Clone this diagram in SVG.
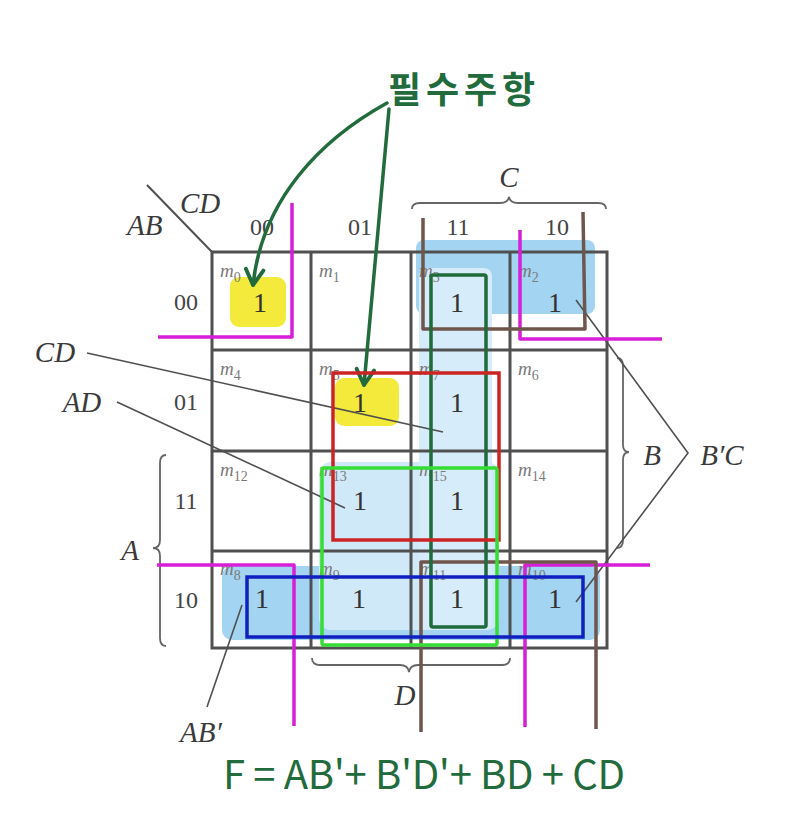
<svg xmlns="http://www.w3.org/2000/svg" width="796" height="830" viewBox="0 0 796 830">
<defs>
<style>
.lbl{font-family:"Liberation Serif",serif;font-style:italic;font-size:29px;fill:#3a3a3a}
.code{font-family:"Liberation Serif",serif;font-size:24px;fill:#444}
.m{font-family:"Liberation Serif",serif;font-style:italic;font-size:19px;fill:#7a7a7a}
.sub{font-size:14px;font-style:normal}
.one{font-family:"Liberation Serif",serif;font-size:28px;fill:#333;text-anchor:middle}
.grid{fill:none;stroke:#505050;stroke-width:3}
.ptr{fill:none;stroke:#505050;stroke-width:1.6}
.brace{fill:none;stroke:#666;stroke-width:1.8}
.mag{fill:none;stroke:#d81fd8;stroke-width:3.5;stroke-linejoin:round}
.brn{fill:none;stroke:#6f564c;stroke-width:3.5;stroke-linejoin:round}
.hand{fill:#226b3c;font-family:"Noto Sans CJK KR","Noto Sans",sans-serif}
.arw{fill:none;stroke:#226b3c;stroke-width:3.5;stroke-linecap:round}
</style>
<marker id="ah" viewBox="0 0 20 20" refX="17" refY="10" markerUnits="userSpaceOnUse" markerWidth="22" markerHeight="22" orient="auto">
<path d="M3,2 L17,10 L3,18" fill="none" stroke="#226b3c" stroke-width="3.5" stroke-linecap="round" stroke-linejoin="round"/>
</marker>
</defs>
<rect width="796" height="830" fill="#ffffff"/>

<g id="shading">
<rect x="222" y="566" width="378" height="74" rx="10" fill="#a3d4f1"/>
<rect x="416" y="240" width="179" height="74" rx="8" fill="#a3d4f1"/>
<rect x="319" y="462" width="180" height="168" rx="12" fill="#d0e9f9"/>
<rect x="419" y="268" width="73" height="362" rx="8" fill="#d6ecfa"/>
<rect x="230" y="277" width="56" height="50" rx="9" fill="#f4ea3c"/>
<rect x="335" y="378" width="64" height="48" rx="9" fill="#f4ea3c"/>
</g>

<g id="grid">
<rect class="grid" x="212" y="252" width="395" height="396"/>
<path class="grid" d="M311,252V648M411,252V648M510,252V648M212,350H607M212,451H607M212,551H607"/>
<path class="grid" style="stroke-width:2" d="M147,185L212,252"/>
</g>

<g id="axis-labels">
<text class="lbl" x="127" y="235">AB</text>
<text class="lbl" x="180" y="213">CD</text>
<text class="code" x="262" y="235" text-anchor="middle">00</text>
<text class="code" x="360" y="235" text-anchor="middle">01</text>
<text class="code" x="458" y="235" text-anchor="middle">11</text>
<text class="code" x="557" y="235" text-anchor="middle">10</text>
<text class="code" x="186" y="310" text-anchor="middle">00</text>
<text class="code" x="186" y="410" text-anchor="middle">01</text>
<text class="code" x="186" y="509" text-anchor="middle">11</text>
<text class="code" x="186" y="608" text-anchor="middle">10</text>
<text class="lbl" x="509" y="187" text-anchor="middle">C</text>
<text class="lbl" x="130" y="560" text-anchor="middle">A</text>
<text class="lbl" x="652" y="465" text-anchor="middle">B</text>
<text class="lbl" x="405" y="705" text-anchor="middle">D</text>
<text class="lbl" x="722" y="465" text-anchor="middle">B′C</text>
<text class="lbl" x="55" y="362" text-anchor="middle">CD</text>
<text class="lbl" x="82" y="412" text-anchor="middle">AD</text>
<text class="lbl" x="201" y="742" text-anchor="middle">AB′</text>
<path class="brace" d="M412,209Q412,203 420,203L500,203Q508,203 509,197Q510,203 518,203L598,203Q606,203 606,209"/>
<path class="brace" d="M166,455Q160,455 160,463L160,540Q160,548 153,548Q160,548 160,556L160,638Q160,646 166,646"/>
<path class="brace" d="M617,358Q623,358 623,366L623,445Q623,452 629,452Q623,452 623,460L623,540Q623,548 617,548"/>
<path class="brace" d="M312,658Q312,665 320,665L400,665Q408,665 409,672Q410,665 418,665L502,665Q510,665 510,658"/>
</g>

<g id="cell-m0"><text class="m" x="220" y="277">m<tspan class="sub" dy="5">0</tspan></text><text class="one" x="260" y="312">1</text></g>
<g id="cell-m1"><text class="m" x="319" y="277">m<tspan class="sub" dy="5">1</tspan></text></g>
<g id="cell-m3"><text class="m" x="419" y="277">m<tspan class="sub" dy="5">3</tspan></text><text class="one" x="457" y="312">1</text></g>
<g id="cell-m2"><text class="m" x="518" y="277">m<tspan class="sub" dy="5">2</tspan></text><text class="one" x="555" y="312">1</text></g>
<g id="cell-m4"><text class="m" x="220" y="375">m<tspan class="sub" dy="5">4</tspan></text></g>
<g id="cell-m5"><text class="m" x="319" y="375">m<tspan class="sub" dy="5">5</tspan></text><text class="one" x="360" y="412">1</text></g>
<g id="cell-m7"><text class="m" x="419" y="375">m<tspan class="sub" dy="5">7</tspan></text><text class="one" x="457" y="412">1</text></g>
<g id="cell-m6"><text class="m" x="518" y="375">m<tspan class="sub" dy="5">6</tspan></text></g>
<g id="cell-m12"><text class="m" x="220" y="476">m<tspan class="sub" dy="5">12</tspan></text></g>
<g id="cell-m13"><text class="m" x="319" y="476">m<tspan class="sub" dy="5">13</tspan></text><text class="one" x="360" y="510">1</text></g>
<g id="cell-m15"><text class="m" x="419" y="476">m<tspan class="sub" dy="5">15</tspan></text><text class="one" x="457" y="510">1</text></g>
<g id="cell-m14"><text class="m" x="518" y="476">m<tspan class="sub" dy="5">14</tspan></text></g>
<g id="cell-m8"><text class="m" x="220" y="575">m<tspan class="sub" dy="5">8</tspan></text><text class="one" x="262" y="608">1</text></g>
<g id="cell-m9"><text class="m" x="319" y="575">m<tspan class="sub" dy="5">9</tspan></text><text class="one" x="359" y="608">1</text></g>
<g id="cell-m11"><text class="m" x="419" y="575">m<tspan class="sub" dy="5">11</tspan></text><text class="one" x="457" y="608">1</text></g>
<g id="cell-m10"><text class="m" x="518" y="575">m<tspan class="sub" dy="5">10</tspan></text><text class="one" x="555" y="608">1</text></g>

<g id="connectors">
<path class="ptr" d="M87,353L443,432"/>
<path class="ptr" d="M117,402L345,508"/>
<path class="ptr" d="M207,707L242,605"/>
<path class="ptr" d="M576,300L688,453L576,602"/>
<path class="arw" d="M387,103C320,140 262,200 253,285" marker-end="url(#ah)"/>
<path class="arw" d="M389,109L364,385" marker-end="url(#ah)"/>
</g>

<g id="loops">
<path class="mag" d="M292,203V337H158"/>
<path class="mag" d="M520,230V339H662"/>
<path class="mag" d="M157,565H294V726"/>
<path class="mag" d="M525,727V565H650"/>
<path class="brn" d="M423,218V329H585L583,212"/>
<path class="brn" d="M421,732V562H596V729"/>
<rect x="431" y="275" width="55" height="352" rx="2" fill="none" stroke="#1f6b3b" stroke-width="3.5"/>
<rect x="333" y="373" width="166" height="167" fill="none" stroke="#cc2424" stroke-width="3.5"/>
<rect x="322" y="468" width="175" height="177" rx="2" fill="none" stroke="#35dd35" stroke-width="3.5"/>
<rect x="247" y="577" width="336" height="60" fill="none" stroke="#1020c0" stroke-width="3.5"/>
</g>

<g id="notes">
<text class="hand" x="388" y="103" font-size="36" font-weight="bold" textLength="147">필수주항</text>
<text class="hand" x="223" y="789" font-size="40" textLength="402" font-family="Liberation Sans, sans-serif">F = AB'+ B'D'+ BD + CD</text>
</g>
</svg>
